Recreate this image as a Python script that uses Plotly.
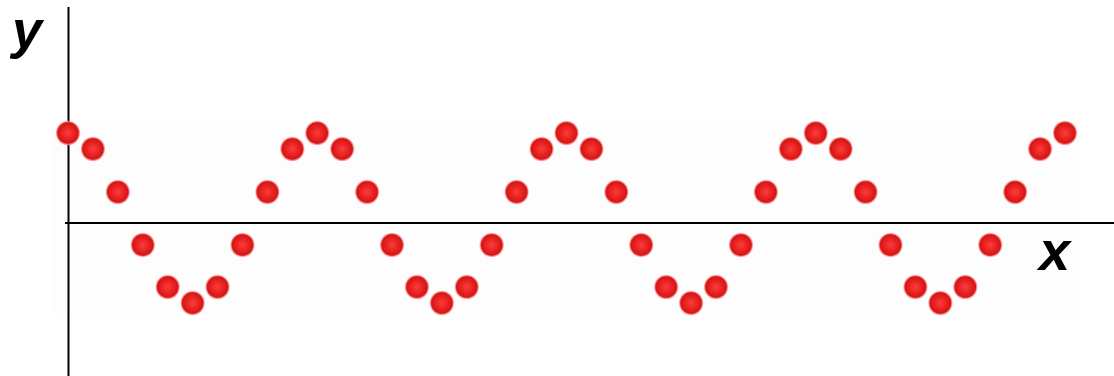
import plotly.graph_objects as go

# sample index along the wave
x_index = list(range(41))
# height of each ball above the x axis (pixel-like units)
y_values = [90, 74, 31, -22, -64, -80, -64, -22, 31, 74,
            90, 74, 31, -22, -64, -80, -64, -22, 31, 74,
            90, 74, 31, -22, -64, -80, -64, -22, 31, 74,
            90, 74, 31, -22, -64, -80, -64, -22, 31, 74,
            90]
x_label = "x"
y_label = "y"

W, H = 1114, 376
fig = go.Figure()

fig.add_trace(go.Scatter(
    x=x_index, y=y_values, mode="markers",
    marker=dict(size=23, color="#d01010",
                gradient=dict(type="radial", color="#ff3a3a"),
                line=dict(color="rgba(255,160,160,0.7)", width=1.5)),
    hoverinfo="skip", showlegend=False))

shapes = [
    dict(type="rect", xref="paper", yref="paper", x0=54 / W, x1=1079 / W,
         y0=(H - 314) / H, y1=(H - 122) / H, fillcolor="rgb(253,253,253)",
         line=dict(width=0), layer="below"),
    dict(type="line", xref="paper", yref="y", x0=65 / W, x1=1, y0=0, y1=0,
         line=dict(color="black", width=2), layer="below"),
    dict(type="line", xref="x", yref="paper", x0=0.02, x1=0.02, y0=0, y1=(H - 7) / H,
         line=dict(color="black", width=2), layer="below"),
]

annotations = [
    dict(text=f"<b><i>{y_label}</i></b>", xref="paper", yref="paper",
         x=27 / W, y=(H - 29) / H, showarrow=False, xanchor="center", yanchor="middle",
         font=dict(family="Liberation Sans, Arial", size=54, color="black")),
    dict(text=f"<b><i>{x_label}</i></b>", xref="paper", yref="paper",
         x=1054 / W, y=(H - 250) / H, showarrow=False, xanchor="center", yanchor="middle",
         font=dict(family="Liberation Sans, Arial", size=56, color="black")),
]

px_per_unit = (1065 - 68) / 40
fig.update_layout(
    width=W, height=H, margin=dict(l=0, r=0, t=0, b=0),
    paper_bgcolor="white", plot_bgcolor="white",
    xaxis=dict(range=[-68 / px_per_unit, (W - 68) / px_per_unit], visible=False, fixedrange=True),
    yaxis=dict(range=[-153, 223], visible=False, fixedrange=True),
    shapes=shapes, annotations=annotations,
)

fig.write_html("out.html", config={"displayModeBar": False},
               post_script="document.body.style.margin='0';document.body.style.overflow='hidden';")
